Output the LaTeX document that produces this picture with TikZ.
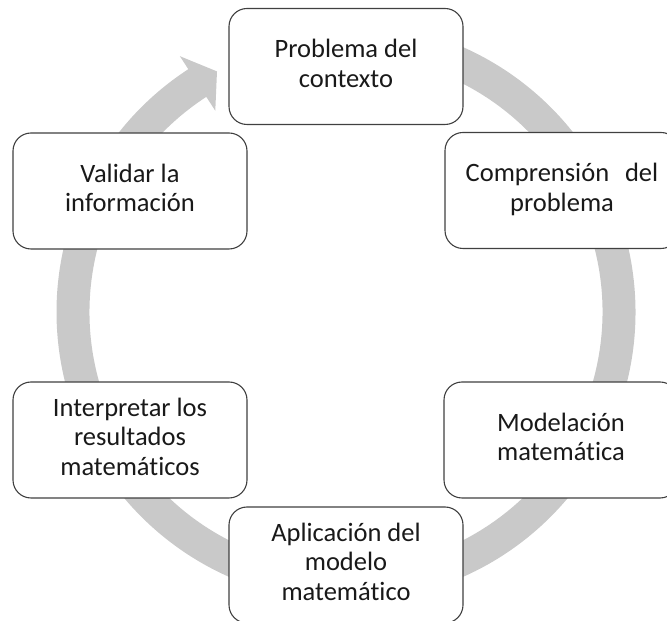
\documentclass[tikz,border=0pt]{standalone}
\usepackage{fontspec}
\setmainfont{Carlito}[Ligatures=NoCommon]
\usetikzlibrary{calc}
\definecolor{ringgray}{RGB}{201,201,201}
\definecolor{boxline}{RGB}{64,64,64}
\begin{document}
\begin{tikzpicture}[x=1pt,y=1pt,
  stage/.style={draw=boxline, line width=1.1pt, fill=white, rounded corners=18pt,
    minimum width=234pt, minimum height=116pt, inner sep=0pt, align=center,
    font=\fontsize{26.5}{29.5}\selectfont, text=black!90}]
\useasboundingbox (0,0) rectangle (667,621);
\clip (0,0) rectangle (667,621);
\coordinate (c) at (346,309);
% circular arrow ring
\fill[ringgray] ($(c)+(95:289.5pt)$) arc[start angle=95,end angle=-237,radius=289.5pt]
  -- ($(c)+(123:305pt)$) -- ($(c)+(118.2:273pt)$) -- ($(c)+(123:240pt)$)
  -- ($(c)+(123:256.5pt)$) arc[start angle=-237,end angle=95,radius=256.5pt] -- cycle;
% stages
\node[stage] (s1) at (346,554.5) {\strut Problema del\\contexto\strut};
\node[stage] (s2) at (562,430.5) {\strut Comprensión\hspace{0.6em}del\\problema\strut};
\node[stage] (s3) at (561,181) {\strut Modelación\\matemática\strut};
\node[stage] (s4) at (346,56) {\strut Aplicación del\\modelo\\matemático\strut};
\node[stage] (s5) at (130,181) {\strut Interpretar los\\resultados\\matemáticos\strut};
\node[stage] (s6) at (130,430) {\strut Validar la\\información\strut};
\end{tikzpicture}
\end{document}
